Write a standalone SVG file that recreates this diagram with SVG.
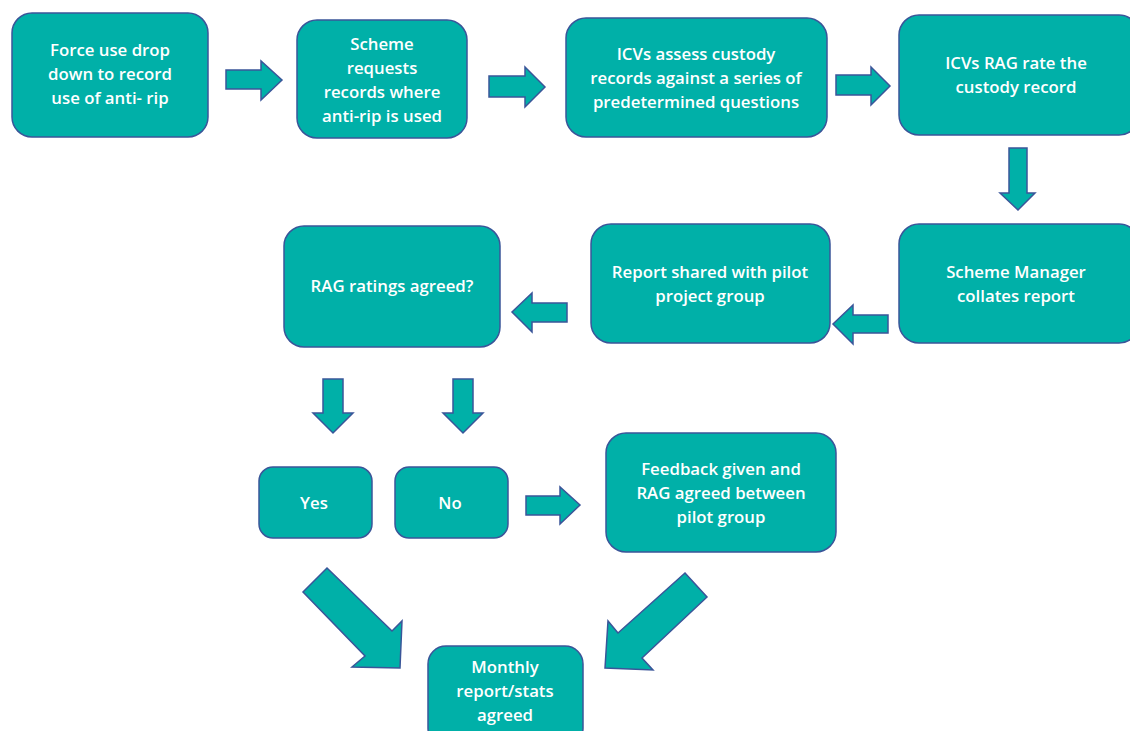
<svg xmlns="http://www.w3.org/2000/svg" width="1130" height="731" viewBox="0 0 1130 731">
<style>
.box{fill:#00B0A8;stroke:#3A5599;stroke-width:1.5}
.arr{fill:#00B0A8;stroke:#3A5599;stroke-width:1.5;stroke-linejoin:miter}
text{font-family:"Open Sans","Liberation Sans",sans-serif;font-size:16.8px;font-weight:600;fill:#ffffff;text-anchor:middle}
</style>
<rect width="1130" height="731" fill="#ffffff"/>
<g id="n1"><rect class="box" x="12" y="13" width="196" height="124" rx="20"/>
<text x="110" y="56">Force use drop</text><text x="110" y="80">down to record</text><text x="110" y="104">use of anti- rip</text></g>
<g id="n2"><rect class="box" x="297" y="20" width="170" height="118" rx="20"/>
<text x="382" y="50">Scheme</text><text x="382" y="74">requests</text><text x="382" y="98">records where</text><text x="382" y="122">anti-rip is used</text></g>
<g id="n3"><rect class="box" x="566" y="18" width="261" height="119" rx="20"/>
<text x="696" y="60">ICVs assess custody</text><text x="696" y="84">records against a series of</text><text x="696" y="108">predetermined questions</text></g>
<g id="n4"><rect class="box" x="899" y="15" width="240" height="120" rx="20"/>
<text x="1016" y="69">ICVs RAG rate the</text><text x="1016" y="93">custody record</text></g>
<g id="n5"><rect class="box" x="899" y="224" width="240" height="119" rx="20"/>
<text x="1016" y="278">Scheme Manager</text><text x="1016" y="302">collates report</text></g>
<g id="n6"><rect class="box" x="591" y="224" width="239" height="119" rx="20"/>
<text x="710" y="278">Report shared with pilot</text><text x="710" y="302">project group</text></g>
<g id="n7"><rect class="box" x="284" y="226" width="216" height="121" rx="20"/>
<text x="392" y="292">RAG ratings agreed?</text></g>
<g id="n8"><rect class="box" x="259" y="467" width="113" height="71" rx="14"/>
<text x="314" y="509">Yes</text></g>
<g id="n9"><rect class="box" x="395" y="467" width="113" height="71" rx="14"/>
<text x="450" y="509">No</text></g>
<g id="n10"><rect class="box" x="606" y="433" width="230" height="119" rx="20"/>
<text x="721" y="475">Feedback given and</text><text x="721" y="499">RAG agreed between</text><text x="721" y="523">pilot group</text></g>
<g id="n11"><rect class="box" x="428" y="646" width="155" height="100" rx="18"/>
<text x="505" y="673">Monthly</text><text x="505" y="697">report/stats</text><text x="505" y="721">agreed</text></g>
<g id="connectors">
<polygon class="arr" points="226,70 261,70 261,61 282,80 261,100 261,89 226,89"/>
<polygon class="arr" points="489,76 525,76 525,67 545,87 525,107 525,97 489,97"/>
<polygon class="arr" points="836,75 871,75 871,67 890,86 871,105 871,95 836,95"/>
<polygon class="arr" points="1009,148 1027,148 1027,193 1035,193 1018,210 1000,193 1009,193"/>
<polygon class="arr" points="888,315 853,315 853,305 833,324 853,344 853,333 888,333"/>
<polygon class="arr" points="567,303 532,303 532,293 512,312 532,332 532,322 567,322"/>
<polygon class="arr" points="323,379 343,379 343,413 353,413 333,433 313,413 323,413"/>
<polygon class="arr" points="453,379 473,379 473,413 483,413 463,433 443,413 453,413"/>
<polygon class="arr" points="526,496 560,496 560,487 580,505 560,524 560,515 526,515"/>
<polygon class="arr" points="327,568 392,631 402,621 400,668 352,667 365,656 303,592"/>
<polygon class="arr" points="685,573 707,597 642,658 653,670 605,668 608,621 618,633"/>
</g>
</svg>
